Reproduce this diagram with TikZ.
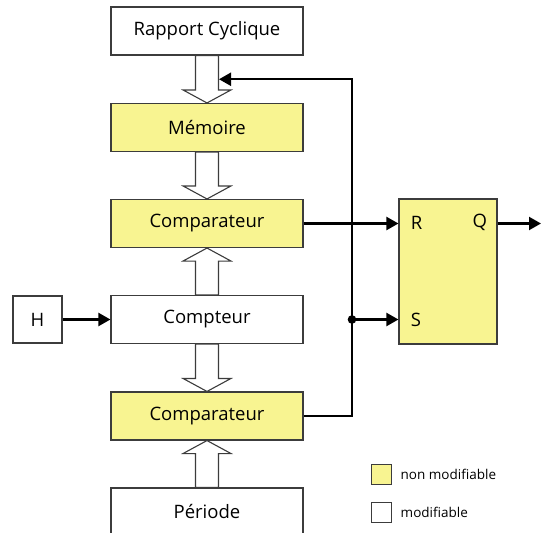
\documentclass[tikz,border=0pt]{standalone}
\usepackage{fontspec}
\setmainfont{Open Sans}
\usetikzlibrary{calc,arrows.meta}

\definecolor{fixfill}{RGB}{248,244,145}
\definecolor{edge}{RGB}{60,60,60}

% hollow bus arrow from the first anchor to the second
\newcommand{\busarrow}[2]{%
  \coordinate (neck) at ($(#2)!13pt!(#1)$);
  \draw [busline] ($(#1)!11.5pt!90:(#2)$) -- ($(neck)!11.5pt!90:(#2)$) -- ($(neck)!24pt!90:(#2)$) -- (#2)
    -- ($(neck)!24pt!-90:(#2)$) -- ($(neck)!11.5pt!-90:(#2)$) -- ($(#1)!11.5pt!-90:(#2)$) -- cycle;}

\begin{document}
\begin{tikzpicture}[x=1pt, y=-1pt, node distance=96pt]
        \tikzstyle{block} = [rectangle, minimum width=192pt, minimum height=48pt, text centered, draw=edge, line width=1.1pt, font=\fontsize{18.5}{22}\selectfont]
        \tikzstyle{fixblock} = [block, fill=fixfill]
        \tikzstyle{modblock} = [block, fill=white]
        \tikzstyle{busline} = [draw=edge, line width=1.1pt, fill=white]
        \tikzstyle{arrow} = [line width=2.2pt, -{Triangle[length=12pt,width=13pt]}]
        \tikzstyle{keybox} = [rectangle, draw=edge, line width=1pt, minimum size=20pt, inner sep=0pt]
        \tikzstyle{keytext} = [anchor=west, inner sep=0pt, xshift=9pt, font=\fontsize{13.5}{16}\selectfont]
        \tikzstyle{pin} = [font=\fontsize{18.5}{22}\selectfont]

        \useasboundingbox (0,0) rectangle (542,533);
        \clip (0,0) rectangle (542,533);

        \node (cyc) [modblock] at (207,31) {Rapport Cyclique};
        \node (mem) [fixblock, below of=cyc, yshift=-0.5pt] {Mémoire};
        \node (cmpA) [fixblock, below of=mem] {Comparateur};
        \node (cnt) [modblock, below of=cmpA] {Compteur};
        \node (cmpB) [fixblock, below of=cnt, yshift=-0.5pt] {Comparateur};
        \node (per) [modblock, below of=cmpB] {Période};
        \node (clk) [modblock, minimum width=49pt, minimum height=47pt, left of=cnt, xshift=-73.5pt] {H};

        % bascule RS
        \node (rs) [fixblock, minimum width=98pt, minimum height=145pt] at (448,271.5) {};
        \node (r) [pin, anchor=west] at ($(rs.north west)+(9,24)$) {R};
        \node (q) [pin, anchor=east] at ($(rs.north east)+(-7,24)$) {Q};
        \node (s) [pin, anchor=west] at ($(rs.north west)+(9,121)$) {S};

        \busarrow{cyc.south}{mem.north}
        \busarrow{mem.south}{cmpA.north}
        \busarrow{cnt.north}{cmpA.south}
        \busarrow{cnt.south}{cmpB.north}
        \busarrow{per.north}{cmpB.south}

        \coordinate (tap) at (352,319.5);
        \coordinate (fb) at ($(cyc.south)!0.5!(mem.north)+(12,0)$);
        \coordinate (qout) at (541,223.5);

        \draw [arrow] (clk) -- (cnt);
        \draw [arrow] (cmpA.east) -- (rs.west |- cmpA);
        \draw [arrow] (cmpB.east) -| (tap |- fb) -- (fb);
        \draw [arrow] (tap) -- (rs.west |- tap);
        \fill (tap) circle (4.3pt);
        \draw [arrow] (rs.east |- qout) -- (qout);

        % legende
        \node (keyfix) [keybox, fill=fixfill] at (381,474) {};
        \node (keyfixtext) [keytext] at (keyfix.east) {non modifiable};
        \node (keymod) [keybox, fill=white] at (381,512) {};
        \node (keymodtext) [keytext] at (keymod.east) {modifiable};
\end{tikzpicture}
\end{document}
